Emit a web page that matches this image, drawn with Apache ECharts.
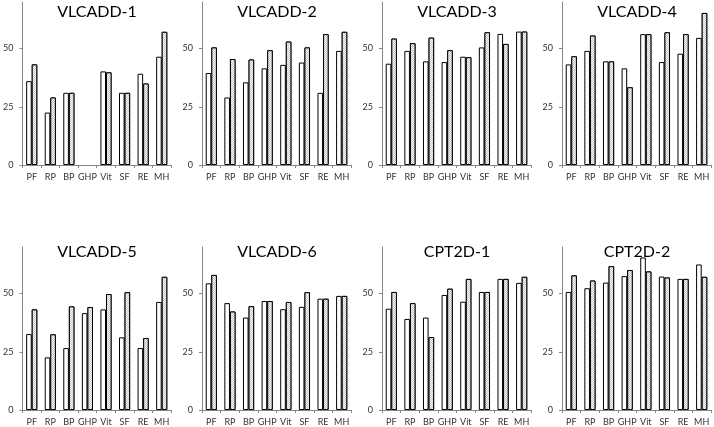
<!DOCTYPE html>
<html>
<head>
<meta charset="utf-8">
<script src="https://cdn.jsdelivr.net/npm/echarts@6/dist/echarts.min.js"></script>
<style>
html,body{margin:0;padding:0;background:#fff;}
#c{width:714px;height:427px;}
</style>
</head>
<body>
<div id="c"></div>
<script>
var categories = ['PF', 'RP', 'BP', 'GHP', 'Vit', 'SF', 'RE', 'MH'];
var panelTitles = ['VLCADD-1', 'VLCADD-2', 'VLCADD-3', 'VLCADD-4', 'VLCADD-5', 'VLCADD-6', 'CPT2D-1', 'CPT2D-2'];
var yTicks = [0, 25, 50];

var vlcadd1White  = [36.0, 22.5, 31.0, null, 40.2, 31.0, 39.2, 46.5];
var vlcadd1Dotted = [43.2, 29.0, 31.0, null, 39.8, 31.0, 35.0, 57.2];
var vlcadd2White  = [39.5, 29.0, 35.5, 41.5, 43.0, 44.0, 31.0, 49.0];
var vlcadd2Dotted = [50.5, 45.5, 45.3, 49.3, 53.0, 50.5, 56.2, 57.2];
var vlcadd3White  = [43.5, 49.0, 44.5, 44.2, 46.5, 50.5, 56.3, 57.3];
var vlcadd3Dotted = [54.3, 52.3, 54.7, 49.3, 46.3, 57.0, 52.0, 57.3];
var vlcadd4White  = [43.2, 49.0, 44.5, 41.5, 56.2, 44.2, 47.8, 54.6];
var vlcadd4Dotted = [46.7, 55.6, 44.5, 33.4, 56.2, 57.0, 56.2, 65.3];
var vlcadd5White  = [32.6, 22.6, 26.6, 41.6, 43.2, 31.2, 26.6, 46.4];
var vlcadd5Dotted = [43.2, 32.5, 44.5, 44.2, 49.8, 50.6, 30.9, 57.2];
var vlcadd6White  = [54.4, 45.9, 39.7, 46.8, 43.3, 44.3, 47.8, 49.0];
var vlcadd6Dotted = [58.0, 42.3, 44.6, 46.8, 46.4, 50.6, 47.8, 49.0];
var cpt2d1White   = [43.5, 39.1, 39.7, 49.4, 46.5, 50.7, 56.3, 54.6];
var cpt2d1Dotted  = [50.7, 45.9, 31.3, 52.1, 56.3, 50.7, 56.3, 57.2];
var cpt2d2White   = [50.7, 52.3, 54.7, 57.5, 65.5, 57.3, 56.3, 62.5];
var cpt2d2Dotted  = [57.8, 55.6, 61.8, 60.1, 59.5, 56.9, 56.3, 57.2];

var whiteSets = [vlcadd1White, vlcadd2White, vlcadd3White, vlcadd4White, vlcadd5White, vlcadd6White, cpt2d1White, cpt2d2White];
var dottedSets = [vlcadd1Dotted, vlcadd2Dotted, vlcadd3Dotted, vlcadd4Dotted, vlcadd5Dotted, vlcadd6Dotted, cpt2d1Dotted, cpt2d2Dotted];

(function () {
  var FONT = 'Lato, "Liberation Sans", sans-serif';
  var grids = [], xAxes = [], yAxes = [], series = [], titles = [];
  for (var i = 0; i < 8; i++) {
    var col = i % 4, row = Math.floor(i / 4);
    var gLeft = 22 + col * 180;
    var gTop = row === 0 ? 2 : 247;
    grids.push({left: gLeft, top: gTop, width: 149, height: 163});
    titles.push({
      text: panelTitles[i], left: gLeft + 75, top: row === 0 ? 4 : 244, textAlign: 'center', padding: 0,
      textStyle: {fontFamily: FONT, fontSize: 16, fontWeight: 'normal', color: '#000'}
    });
    xAxes.push({
      type: 'category', gridIndex: i, data: categories,
      axisLine: {lineStyle: {color: '#868686', width: 1}},
      axisTick: {show: true, length: 3, lineStyle: {color: '#868686'}},
      axisLabel: {interval: 0, fontFamily: FONT, fontSize: 9, color: '#333', margin: 8}
    });
    yAxes.push({
      type: 'value', gridIndex: i, min: 0, max: 70,
      splitLine: {show: false},
      axisLine: {show: true, lineStyle: {color: '#868686', width: 1}},
      axisTick: {show: true, length: 3, customValues: yTicks, lineStyle: {color: '#868686'}},
      axisLabel: {customValues: yTicks, fontFamily: FONT, fontSize: 9, color: '#333', margin: 9}
    });
    series.push({
      type: 'bar', xAxisIndex: i, yAxisIndex: i, data: whiteSets[i],
      barWidth: '30%', barGap: '0%',
      itemStyle: {color: '#ffffff', borderColor: '#000', borderWidth: 1},
      silent: true
    });
    series.push({
      type: 'bar', xAxisIndex: i, yAxisIndex: i, data: dottedSets[i],
      barWidth: '30%', barGap: '0%',
      itemStyle: {
        color: '#ffffff', borderColor: '#000', borderWidth: 1,
        decal: {symbol: 'rect', symbolSize: 1, color: '#bfbfbf', backgroundColor: '#ffffff',
          dashArrayX: [[1, 1], [0, 1, 1, 0]], dashArrayY: [1, 0], rotation: 0}
      },
      silent: true
    });
  }

  var chart = echarts.init(document.getElementById('c'), null, {renderer: 'canvas'});
  chart.setOption({
    backgroundColor: '#ffffff',
    animation: false,
    title: titles,
    grid: grids,
    xAxis: xAxes,
    yAxis: yAxes,
    series: series
  });
})();
</script>
</body>
</html>
